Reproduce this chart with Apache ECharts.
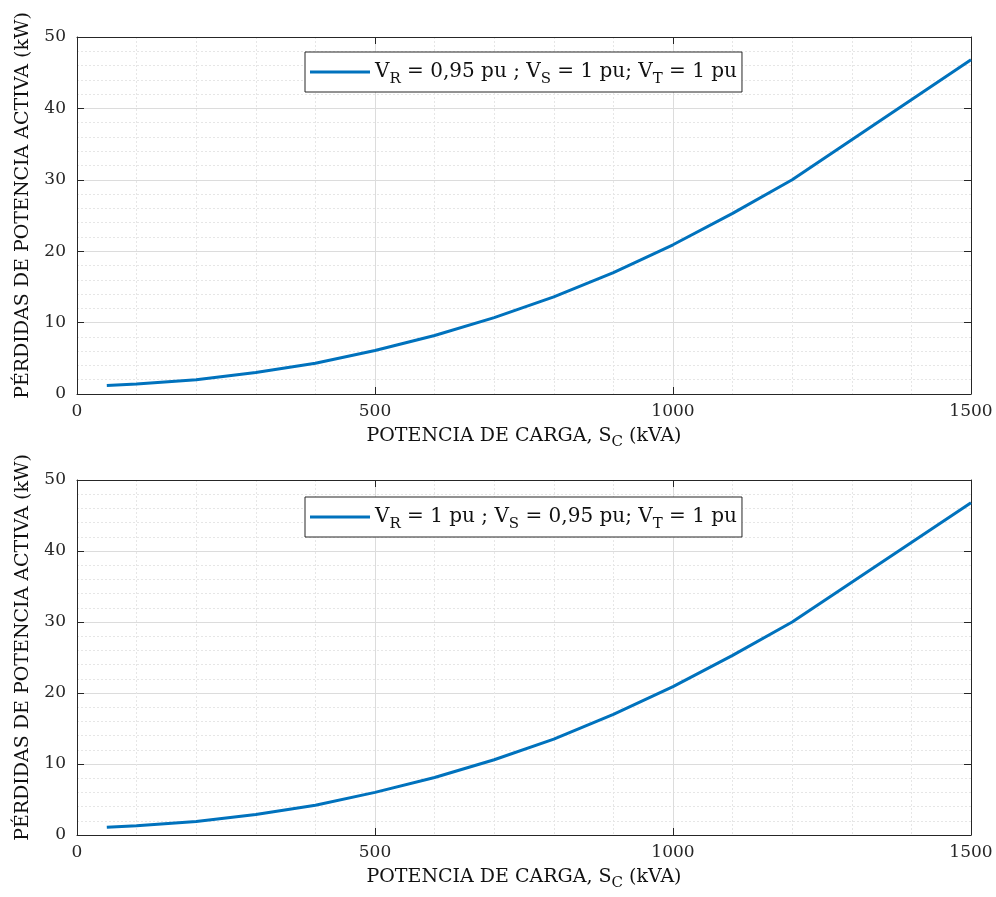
<!DOCTYPE html>
<html><head><meta charset="utf-8">
<script src="https://cdn.jsdelivr.net/npm/echarts@6/dist/echarts.min.js"></script>
<style>html,body{margin:0;padding:0;background:#fff}#c{width:996px;height:897px}</style>
</head><body><div id="c"></div>
<script>
// ---- data ----
const loadKVA = [50, 100, 200, 300, 400, 500, 600, 700, 800, 900, 1000, 1100, 1200, 1500];
const lossesCaseR = [1.2, 1.4, 2.0, 3.0, 4.3, 6.1, 8.2, 10.7, 13.6, 17.0, 20.9, 25.3, 30.0, 46.8];
const lossesCaseS = [1.1, 1.3, 1.9, 2.9, 4.2, 6.0, 8.1, 10.6, 13.5, 17.0, 20.9, 25.3, 30.0, 46.8];
const seriesNames = ['caseR', 'caseS'];
const legendLabels = {
  caseR: 'V{sub|R} = 0,95 pu ; V{sub|S} = 1 pu; V{sub|T} = 1 pu',
  caseS: 'V{sub|R} = 1 pu ; V{sub|S} = 0,95 pu; V{sub|T} = 1 pu'
};
const xTitle = 'POTENCIA DE CARGA, S{sub|C} (kVA)';
const yTitle = 'PÉRDIDAS DE POTENCIA ACTIVA (kW)';
const xRange = [0, 1500], xStep = 500;
const yRange = [0, 50], yStep = 10;

// ---- styling ----
const FONT = 'DejaVu Serif';
const AX = '#262626';
const LINE = '#0072BD';
const grids = [
  { left: 77, top: 37, width: 894, height: 357 },
  { left: 77, top: 480, width: 894, height: 355 }
];
const legendTops = [52, 497];
const datasets = [lossesCaseR, lossesCaseS];

const subRich = {
  sub: { fontFamily: FONT, fontSize: 15, color: '#111', verticalAlign: 'bottom', lineHeight: 6 }
};

const xAxes = [], yAxes = [], series = [], legends = [];
grids.forEach((g, i) => {
  xAxes.push({
    type: 'value', gridIndex: i, min: xRange[0], max: xRange[1], interval: xStep, position: 'bottom',
    axisLine: { show: true, onZero: false, lineStyle: { color: AX, width: 1 } },
    axisTick: { show: true, inside: true, length: 7, lineStyle: { color: AX } },
    axisLabel: { fontFamily: FONT, fontSize: 17, color: AX, margin: 9, formatter: v => String(v) },
    splitLine: { show: true, lineStyle: { color: '#dcdcdc', width: 1 } },
    minorTick: { show: false, splitNumber: 5 },
    minorSplitLine: { show: true, lineStyle: { color: '#e6e6e6', width: 1, type: [2, 2] } },
    name: xTitle, nameLocation: 'middle', nameGap: 28,
    nameTextStyle: { fontFamily: FONT, fontSize: 19, color: '#111', lineHeight: 28, rich: subRich }
  });
  xAxes.push({
    type: 'value', gridIndex: i, min: xRange[0], max: xRange[1], interval: xStep, position: 'top',
    axisLine: { show: true, onZero: false, lineStyle: { color: AX, width: 1 } },
    axisTick: { show: true, inside: true, length: 7, lineStyle: { color: AX } },
    axisLabel: { show: false }, splitLine: { show: false }
  });
  yAxes.push({
    type: 'value', gridIndex: i, min: yRange[0], max: yRange[1], interval: yStep, position: 'left',
    axisLine: { show: true, onZero: false, lineStyle: { color: AX, width: 1 } },
    axisTick: { show: true, inside: true, length: 7, lineStyle: { color: AX } },
    axisLabel: { fontFamily: FONT, fontSize: 17, color: AX, margin: 11 },
    splitLine: { show: true, lineStyle: { color: '#dcdcdc', width: 1 } },
    minorTick: { show: false, splitNumber: 5 },
    minorSplitLine: { show: true, lineStyle: { color: '#e6e6e6', width: 1, type: [2, 2] } },
    name: yTitle, nameLocation: 'middle', nameGap: 44, nameRotate: 90,
    nameTextStyle: { fontFamily: FONT, fontSize: 19, color: '#111', padding: [0, 0, 0, 20] }
  });
  yAxes.push({
    type: 'value', gridIndex: i, min: yRange[0], max: yRange[1], interval: yStep, position: 'right',
    axisLine: { show: true, onZero: false, lineStyle: { color: AX, width: 1 } },
    axisTick: { show: true, inside: true, length: 7, lineStyle: { color: AX } },
    axisLabel: { show: false }, splitLine: { show: false }
  });
  series.push({
    name: seriesNames[i], type: 'line', xAxisIndex: i * 2, yAxisIndex: i * 2,
    data: loadKVA.map((x, k) => [x, datasets[i][k]]),
    symbol: 'none', smooth: false,
    lineStyle: { color: LINE, width: 3 }, itemStyle: { color: LINE },
    emphasis: { disabled: true }
  });
  legends.push({
    data: [seriesNames[i]], left: 305, top: legendTops[i],
    icon: 'rect', itemWidth: 60, itemHeight: 3,
    backgroundColor: '#fff', borderColor: AX, borderWidth: 1, borderRadius: 0,
    padding: [5, 5, 5, 5], selectedMode: false,
    formatter: n => legendLabels[n],
    textStyle: { fontFamily: FONT, fontSize: 20, color: '#111', lineHeight: 30, rich: subRich }
  });
});

const chart = echarts.init(document.getElementById('c'), null, { renderer: 'canvas' });
chart.setOption({
  animation: false,
  backgroundColor: '#fff',
  grid: grids.map(g => Object.assign({ containLabel: false }, g)),
  xAxis: xAxes, yAxis: yAxes, series, legend: legends
});
</script></body></html>
